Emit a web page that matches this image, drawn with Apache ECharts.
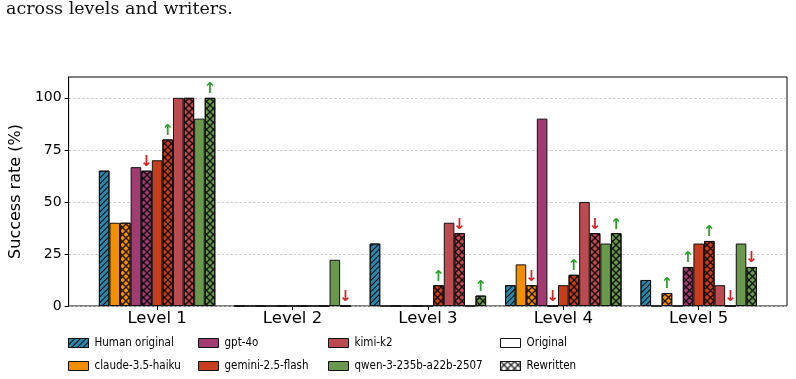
<!DOCTYPE html>
<html>
<head>
<meta charset="utf-8">
<script src="https://cdn.jsdelivr.net/npm/echarts@6/dist/echarts.min.js"></script>
<style>
  html, body { margin: 0; padding: 0; background: #fff; }
  #chart { width: 796px; height: 379px; }
</style>
</head>
<body>
<div id="chart"></div>
<script>
// success rate (%) per level, original vs rewritten prompts
const levels = ["Level 1", "Level 2", "Level 3", "Level 4", "Level 5"];
const yTicks = [0, 25, 50, 75, 100];

const humanOrig = [65, 0, 30, 10, 12.5];
const claudeOrig = [40, 0, 0, 20, 0];
const claudeRew = [40, 0, 0, 10, 6.25];
const gptOrig = [66.7, 0, 0, 90, 0];
const gptRew = [65, 0, 0, 0, 18.75];
const geminiOrig = [70, 0, 0, 10, 30];
const geminiRew = [80, 0, 10, 15, 31.25];
const kimiOrig = [100, 0, 40, 50, 10];
const kimiRew = [100, 0, 35, 35, 0];
const qwenOrig = [90, 22.2, 0, 30, 30];
const qwenRew = [100, 0, 5, 35, 18.75];

const colors = {
  human: "#2E86AB",
  claude: "#F18F01",
  gpt: "#A23B72",
  gemini: "#C73E1D",
  kimi: "#BC4B51",
  qwen: "#6A994E"
};

const FONT = "DejaVu Sans";
const EDGE = "#111";

const slashDecal = {
  symbol: "rect",
  symbolSize: 1,
  color: "rgba(0,0,0,0.9)",
  dashArrayX: [1, 0],
  dashArrayY: [1, 2.2],
  rotation: -Math.PI / 4
};

const crossDecal = {
  symbol: "path://M0,0L1.4,0L10,8.6L10,10L8.6,10L0,1.4ZM10,0L10,1.4L1.4,10L0,10L0,8.6L8.6,0Z",
  symbolSize: 1,
  color: "rgba(0,0,0,0.85)",
  dashArrayX: [7, 0],
  dashArrayY: [7, 0],
  rotation: 0
};

function arrowLabel(orig, rew) {
  if (rew > orig) return { show: true, formatter: "\u2191", color: "#2ca02c" };
  if (rew < orig) return { show: true, formatter: "\u2193", color: "#d62728" };
  return { show: false };
}

function barSeries(name, color, values, decal) {
  return {
    name,
    type: "bar",
    xAxisIndex: 1,
    yAxisIndex: 1,
    barGap: "0%",
    barCategoryGap: "14%",
    itemStyle: {
      color,
      borderColor: EDGE,
      borderWidth: 1,
      decal: decal || null
    },
    emphasis: { disabled: true },
    data: values
  };
}

function rewSeries(name, color, orig, rew) {
  const s = barSeries(name + " (rewritten)", color, rew.map((v, i) => ({
    value: v,
    label: arrowLabel(orig[i], v)
  })), crossDecal);
  s.label = {
    position: "top",
    distance: 1,
    fontSize: 15,
    fontFamily: FONT,
    fontWeight: "bold"
  };
  return s;
}

const chart = echarts.init(document.getElementById("chart"), null, { renderer: "canvas" });

const legendText = { fontSize: 11.5, fontFamily: "'DejaVu Sans Condensed', 'DejaVu Sans'", color: "#000", padding: [0, 0, 0, 1] };
function legendItem(name, color, decal) {
  return {
    name,
    icon: "rect",
    itemStyle: { color, borderColor: EDGE, borderWidth: 1, decal: decal || null }
  };
}
function legendCol(left, items) {
  return {
    orient: "vertical",
    left,
    top: 337,
    padding: 0,
    itemWidth: 20,
    itemHeight: 9,
    itemGap: 11,
    selectedMode: false,
    textStyle: legendText,
    data: items
  };
}

chart.setOption({
  animation: false,
  backgroundColor: "#fff",
  textStyle: { fontFamily: FONT },
  graphic: [
    {
      type: "text",
      left: 6,
      top: 0,
      style: {
        text: "across levels and writers.",
        font: "17.5px 'DejaVu Serif'",
        fill: "#111"
      }
    }
  ],
  grid: [
    { left: 67, right: 9, top: 77, bottom: 73, show: true, borderColor: "#000", borderWidth: 1, backgroundColor: "transparent" },
    { left: 89.4, right: 29.6, top: 77, bottom: 73 }
  ],
  xAxis: [
    { gridIndex: 0, type: "category", data: [""], show: false },
    {
      gridIndex: 1,
      type: "category",
      data: levels,
      axisLine: { show: false },
      axisTick: { show: true, alignWithLabel: true, length: 4, lineStyle: { color: "#000" } },
      axisLabel: { fontSize: 16.5, color: "#000", margin: 4, fontFamily: FONT }
    }
  ],
  yAxis: [
    {
      gridIndex: 0,
      type: "value",
      min: 0,
      max: 110,
      interval: 25,
      name: "Success rate (%)",
      nameLocation: "middle",
      nameGap: 38,
      nameTextStyle: { fontSize: 16, color: "#000", fontFamily: FONT },
      axisLine: { show: true, lineStyle: { color: "#000" } },
      axisTick: { show: true, length: 4, lineStyle: { color: "#000" }, customValues: yTicks },
      axisLabel: { fontSize: 14, color: "#000", margin: 7, fontFamily: FONT, customValues: yTicks },
      splitLine: { show: true, lineStyle: { color: "#c4c4c4", width: 0.9, type: [2.5, 2] } }
    },
    { gridIndex: 1, type: "value", min: 0, max: 110, show: false }
  ],
  legend: [
    legendCol(68, [legendItem("Human original", colors.human, slashDecal), legendItem("claude-3.5-haiku", colors.claude)]),
    legendCol(198, [legendItem("gpt-4o", colors.gpt), legendItem("gemini-2.5-flash", colors.gemini)]),
    legendCol(328, [legendItem("kimi-k2", colors.kimi), legendItem("qwen-3-235b-a22b-2507", colors.qwen)]),
    legendCol(500, [legendItem("Original", "#fff"), legendItem("Rewritten", "#fff", crossDecal)])
  ],
  series: [
    barSeries("Human original", colors.human, humanOrig, slashDecal),
    barSeries("claude-3.5-haiku", colors.claude, claudeOrig),
    rewSeries("claude-3.5-haiku", colors.claude, claudeOrig, claudeRew),
    barSeries("gpt-4o", colors.gpt, gptOrig),
    rewSeries("gpt-4o", colors.gpt, gptOrig, gptRew),
    barSeries("gemini-2.5-flash", colors.gemini, geminiOrig),
    rewSeries("gemini-2.5-flash", colors.gemini, geminiOrig, geminiRew),
    barSeries("kimi-k2", colors.kimi, kimiOrig),
    rewSeries("kimi-k2", colors.kimi, kimiOrig, kimiRew),
    barSeries("qwen-3-235b-a22b-2507", colors.qwen, qwenOrig),
    rewSeries("qwen-3-235b-a22b-2507", colors.qwen, qwenOrig, qwenRew),
    // legend-only entries for the hatch key
    { name: "Original", type: "bar", xAxisIndex: 0, yAxisIndex: 0, data: [], itemStyle: { color: "#fff", borderColor: EDGE, borderWidth: 1 } },
    { name: "Rewritten", type: "bar", xAxisIndex: 0, yAxisIndex: 0, data: [], itemStyle: { color: "#fff", borderColor: EDGE, borderWidth: 1, decal: crossDecal } }
  ]
});

window.addEventListener("resize", () => chart.resize());
</script>
</body>
</html>
